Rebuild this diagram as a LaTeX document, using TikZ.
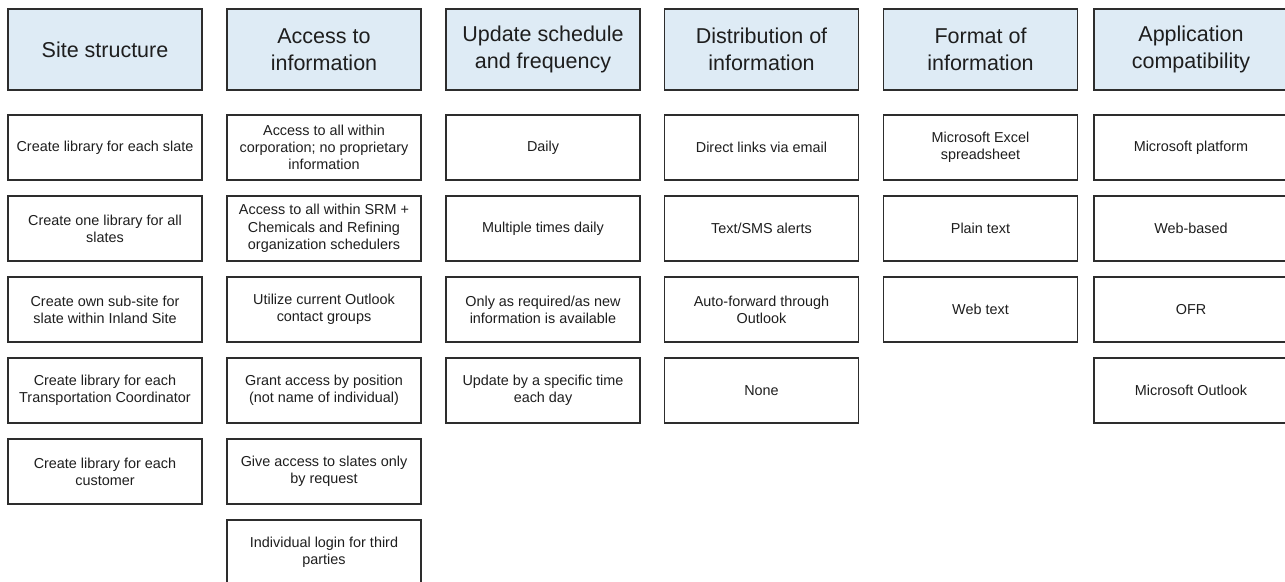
\documentclass[tikz,border=0pt]{standalone}
\usepackage{fontspec}
\setmainfont{Liberation Sans}
\definecolor{hdrfill}{RGB}{222,235,245}
\definecolor{edge}{RGB}{45,45,45}
\definecolor{ink}{RGB}{30,30,30}
\begin{document}
\begin{tikzpicture}[x=1pt,y=-1pt,
  hdr/.style={draw=edge,line width=1.2pt,fill=hdrfill,minimum width=194pt,minimum height=81pt,inner sep=0pt,align=center,text=ink,font=\fontsize{21.5pt}{27pt}\selectfont},
  opt/.style={draw=edge,line width=1.2pt,fill=white,minimum width=194pt,minimum height=65pt,inner sep=0pt,align=center,text=ink,font=\fontsize{14.4pt}{17.3pt}\selectfont}]
\useasboundingbox (0,0) rectangle (1285,581);
\clip (0,0) rectangle (1285,581);
% headers
\node[hdr] (h1) at (105,49.5) {Site structure};
\node[hdr] (h2) at (324,49.5) {Access to\\information};
\node[hdr] (h3) at (543,49.5) {Update schedule\\and frequency};
\node[hdr] (h4) at (761.5,49.5) {Distribution of\\information};
\node[hdr] (h5) at (980.5,49.5) {Format of\\information};
\node[hdr] (h6) at (1191,49.5) {Application\\compatibility};
% column 1
\node[opt] (a1) at (105,147.5) {Create library for each slate};
\node[opt] (a2) at (105,228.5) {Create one library for all\\slates};
\node[opt] (a3) at (105,309.5) {Create own sub-site for\\slate within Inland Site};
\node[opt] (a4) at (105,390.5) {Create library for each\\Transportation Coordinator};
\node[opt] (a5) at (105,471.5) {Create library for each\\customer};
% column 2
\node[opt] (b1) at (324,147.5) {Access to all within\\corporation; no proprietary\\information};
\node[opt] (b2) at (324,228.5) {Access to all within SRM +\\Chemicals and Refining\\organization schedulers};
\node[opt] (b3) at (324,309.5) {Utilize current Outlook\\contact groups};
\node[opt] (b4) at (324,390.5) {Grant access by position\\(not name of individual)};
\node[opt] (b5) at (324,471.5) {Give access to slates only\\by request};
\node[opt] (b6) at (324,552.5) {Individual login for third\\parties};
% column 3
\node[opt] (c1) at (543,147.5) {Daily};
\node[opt] (c2) at (543,228.5) {Multiple times daily};
\node[opt] (c3) at (543,309.5) {Only as required/as new\\information is available};
\node[opt] (c4) at (543,390.5) {Update by a specific time\\each day};
% column 4
\node[opt] (d1) at (761.5,147.5) {Direct links via email};
\node[opt] (d2) at (761.5,228.5) {Text/SMS alerts};
\node[opt] (d3) at (761.5,309.5) {Auto-forward through\\Outlook};
\node[opt] (d4) at (761.5,390.5) {None};
% column 5
\node[opt] (e1) at (980.5,147.5) {Microsoft Excel\\spreadsheet};
\node[opt] (e2) at (980.5,228.5) {Plain text};
\node[opt] (e3) at (980.5,309.5) {Web text};
% column 6
\node[opt] (f1) at (1191,147.5) {Microsoft platform};
\node[opt] (f2) at (1191,228.5) {Web-based};
\node[opt] (f3) at (1191,309.5) {OFR};
\node[opt] (f4) at (1191,390.5) {Microsoft Outlook};
\end{tikzpicture}
\end{document}
